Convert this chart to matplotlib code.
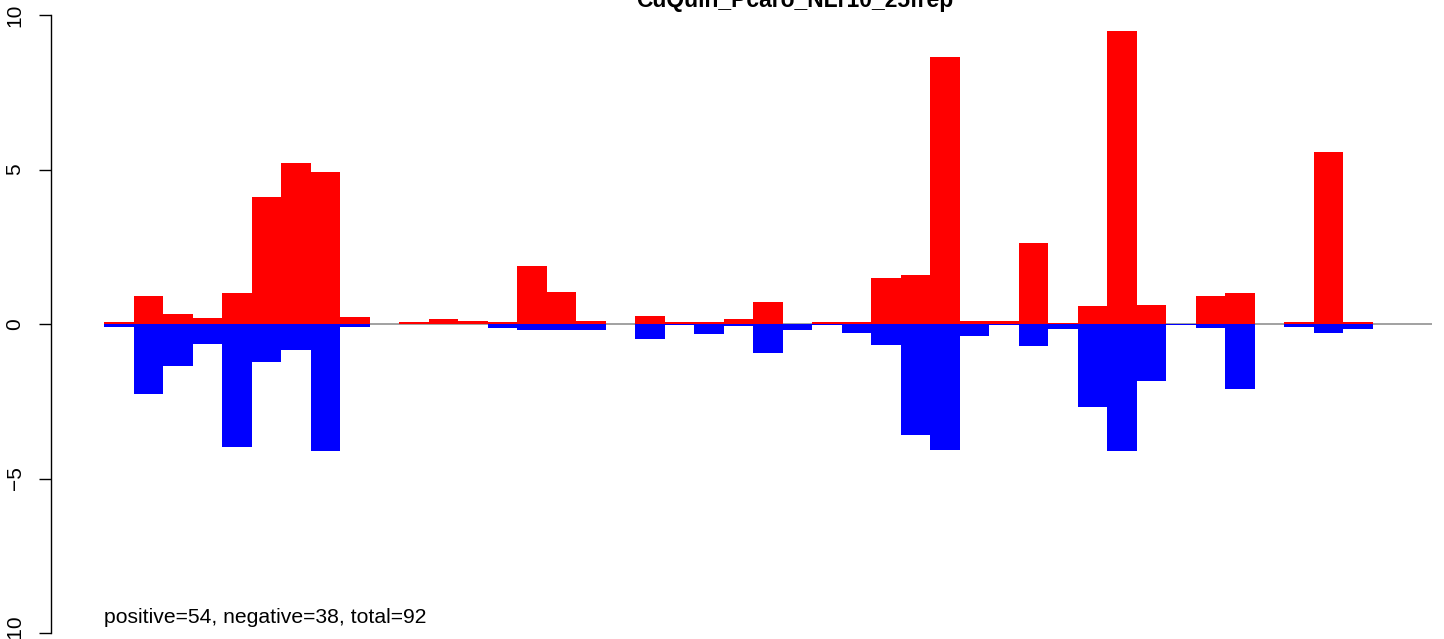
import matplotlib.pyplot as plt
import numpy as np

plt.rcParams['font.family'] = ['Liberation Sans', 'DejaVu Sans']

# значения по позиции (положителни - червено, отрицателни - синьо)
pos_vals = [0.06, 0.91, 0.32, 0.19, 1.00, 4.11, 5.21, 4.92, 0.23, 0.00,
            0.06, 0.16, 0.10, 0.06, 1.88, 1.04, 0.10, 0.00, 0.26, 0.06,
            0.06, 0.16, 0.71, 0.00, 0.06, 0.06, 1.49, 1.59, 8.64, 0.10,
            0.10, 2.62, 0.03, 0.58, 9.48, 0.61, 0.00, 0.91, 1.00, 0.00,
            0.06, 5.57, 0.06, 0.00, 0.00]
neg_vals = [-0.09, -2.27, -1.36, -0.64, -3.97, -1.22, -0.84, -4.11, -0.09, 0.00,
            0.00, 0.00, 0.00, -0.12, -0.19, -0.19, -0.19, 0.00, -0.49, -0.03,
            -0.32, -0.05, -0.93, -0.19, -0.02, -0.29, -0.67, -3.58, -4.07, -0.39,
            -0.03, -0.70, -0.16, -2.68, -4.10, -1.83, -0.03, -0.12, -2.09, 0.00,
            -0.10, -0.28, -0.16, 0.00, 0.00]
title = "CuQuin_Pcaro_NLr10_25frep"
note = "positive=54, negative=38, total=92"

W, H = 1444, 639
fig = plt.figure(figsize=(W / 100, H / 100), dpi=100)

# ос с фиксиран мащаб, както в оригиналната R картинка
px_x, x0_px = 29.5, 104
px_y, y0_px = 30.9, 324
left_px = 51
ax = fig.add_axes([left_px / W, 0, 1 - left_px / W, 1])
ax.set_xlim((left_px - x0_px) / px_x, (W - x0_px) / px_x)
ax.set_ylim(-(H - y0_px) / px_y, y0_px / px_y)

n = len(pos_vals)
x = np.arange(n)
ax.hlines(0, 0, n, color="#9a9a9a", lw=1.3, zorder=1)
ax.bar(x, pos_vals, width=1.0, align="edge", color="#FF0000", lw=0, zorder=2)
ax.bar(x, neg_vals, width=1.0, align="edge", color="#0000FF", lw=0, zorder=2)

for s in ["top", "right", "bottom"]:
    ax.spines[s].set_visible(False)
ax.spines["left"].set_bounds(-10, 10)
ax.spines["left"].set_linewidth(1.0)
ax.set_xticks([])
ax.set_yticks([-10, -5, 0, 5, 10])
ax.set_yticklabels(["\u221210", "\u22125", "0", "5", "10"])
ax.tick_params(axis="y", length=9, width=1.0, pad=10, labelsize=15, labelrotation=90)
for lab in ax.get_yticklabels():
    lab.set_verticalalignment("center")

ax.text(0, -9.68, note, fontsize=15.2, ha="left", va="baseline")
fig.text(795 / W, 1 - 7 / H, title, fontsize=16.5, fontweight="bold", ha="center", va="baseline")

fig.savefig("out.png", dpi=100)
